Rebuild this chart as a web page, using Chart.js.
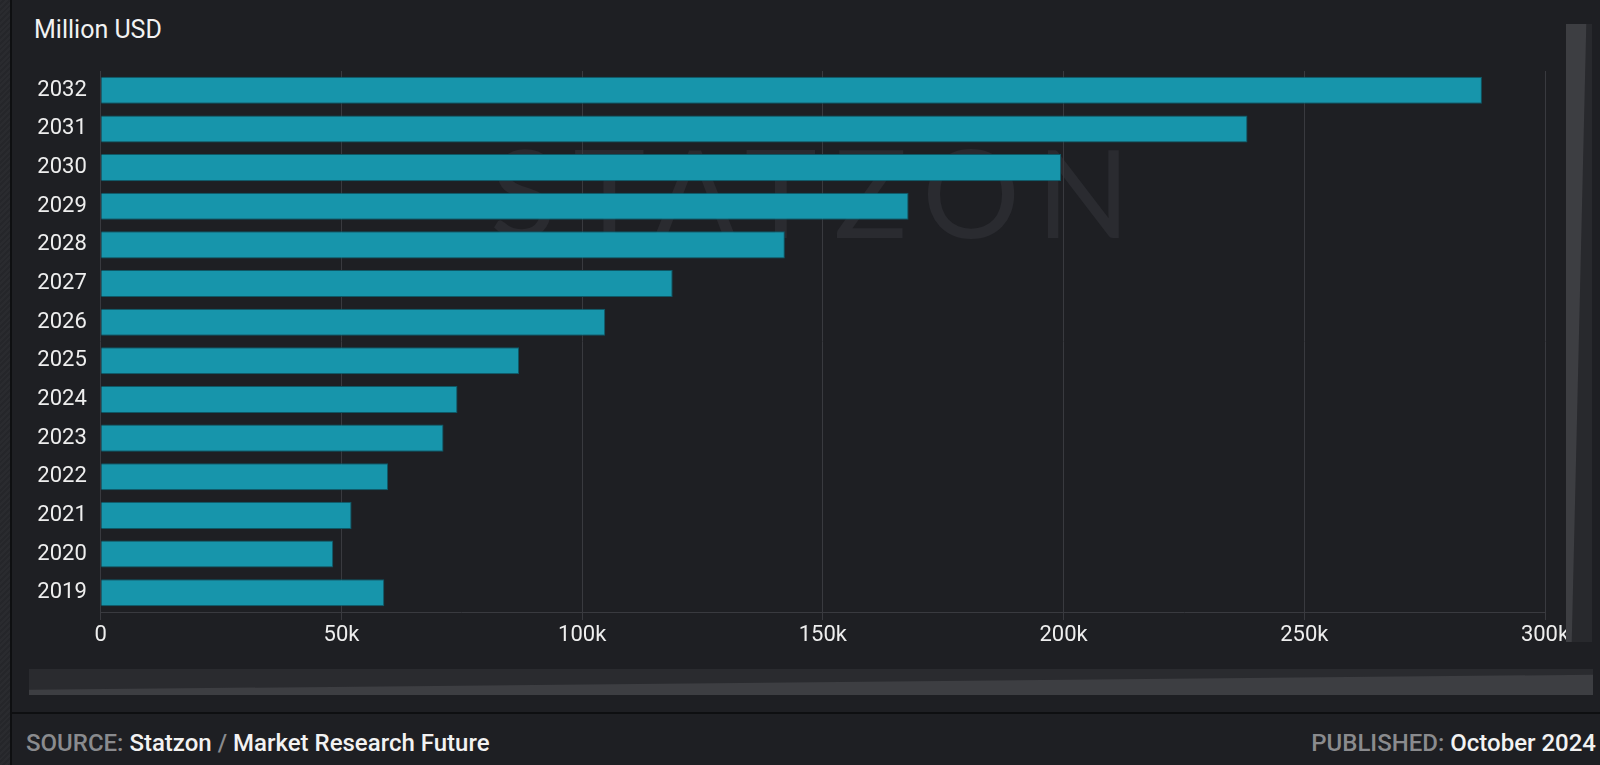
<!DOCTYPE html>
<html>
<head>
<meta charset="utf-8">
<script src="https://cdn.jsdelivr.net/npm/chart.js@4.4.1/dist/chart.umd.min.js"></script>
<style>
  body { margin: 0; width: 1600px; height: 765px; overflow: hidden; position: relative;
         background: #1e1f23; font-family: Roboto, "Noto Sans", sans-serif; }
  #leftStrip { position: absolute; left: 0; top: 0; width: 10px; height: 765px;
               background: repeating-linear-gradient(135deg, #2a2b2f 0 2px, #25262a 2px 4px);
               border-right: 2px solid #0e0f11; }
  #title { position: absolute; left: 34px; top: 15px; font-size: 25px; color: #f2f2f2; }
  #watermark { position: absolute; left: 490px; top: 118px; font-size: 122px; font-family: Lato, sans-serif;
               font-weight: 400; letter-spacing: 17px; color: #2a2b30; z-index: 0; }
  #wrap { position: absolute; left: 0; top: 0; width: 1600px; height: 660px; z-index: 1; }
  #vbar { position: absolute; left: 1566px; top: 24px; width: 26px; height: 618px; background: #28292d; z-index: 2; }
  #vbar div { position: absolute; inset: 0; background: #3d3e42; clip-path: polygon(0 0, 78% 0, 22% 100%, 0 100%); }
  #hbar { position: absolute; left: 29px; top: 669px; width: 1564px; height: 26px; background: #2a2b2f; }
  #hbar div { position: absolute; inset: 0; background: #3d3e42; clip-path: polygon(0 80%, 100% 22%, 100% 100%, 0 100%); }
  #sep { position: absolute; left: 12px; top: 712px; width: 1588px; height: 2px; background: #0e0f11; }
  .foot { position: absolute; top: 729px; font-size: 24px; font-weight: 500; color: #f2f2f2; }
  .foot span { color: #8a8b8e; }
  #source { left: 26px; }
  #published { right: 4px; }
</style>
</head>
<body>
<div id="leftStrip"></div>
<div id="title">Million USD</div>
<div id="watermark">STATZON</div>
<div id="wrap"><canvas id="market-bar"></canvas></div>
<div id="vbar"><div></div></div>
<div id="hbar"><div></div></div>
<div id="sep"></div>
<div class="foot" id="source"><span>SOURCE:</span> Statzon <span>/</span> Market Research Future</div>
<div class="foot" id="published"><span>PUBLISHED:</span> October 2024</div>

<script>
// Colors
var barColor = "rgba(23, 149, 171, 1)";
var barBorder = "rgba(14, 88, 102, 1)";
var gridColor = "#393a3f";
var labelColor = "#eeeeee";

// Data (Million USD)
var years = ['2019', '2020', '2021', '2022', '2023', '2024', '2025', '2026', '2027', '2028', '2029', '2030', '2031', '2032'];
var marketValues = [58900, 48300, 52100, 59700, 71200, 74100, 86900, 104800, 118800, 142100, 167800, 199500, 238200, 286900];
var xTicks = [0, 50000, 100000, 150000, 200000, 250000, 300000];

var marketCanvas = document.getElementById('market-bar');

var marketChart = new Chart(marketCanvas, {
  type: 'bar',
  options: {
    indexAxis: 'y',
    responsive: true,
    maintainAspectRatio: false,
    animation: false,
    layout: {
      padding: { left: 23.3, right: 55, top: 71, bottom: 9.6 }
    },
    plugins: {
      legend: { display: false },
      tooltip: { enabled: false }
    },
    scales: {
      x: {
        min: xTicks[0],
        max: xTicks[xTicks.length - 1],
        grid: { color: gridColor, tickLength: 8, tickColor: gridColor },
        border: { display: true, color: gridColor },
        ticks: {
          stepSize: 50000,
          padding: 2,
          color: labelColor,
          font: { family: 'Roboto', size: 22 },
          callback: function (v) { return v === 0 ? '0' : (v / 1000) + 'k'; }
        }
      },
      y: {
        reverse: true,
        grid: { display: false, drawTicks: false },
        border: { display: false },
        ticks: {
          padding: 14,
          color: labelColor,
          font: { family: 'Roboto', size: 22 }
        }
      }
    }
  },
  data: {
    labels: years,
    datasets: [
      {
        data: marketValues,
        label: 'Million USD',
        backgroundColor: barColor,
        borderColor: barBorder,
        borderWidth: 1,
        barPercentage: 0.7,
        categoryPercentage: 1.0
      }
    ]
  }
});
</script>
</body>
</html>
